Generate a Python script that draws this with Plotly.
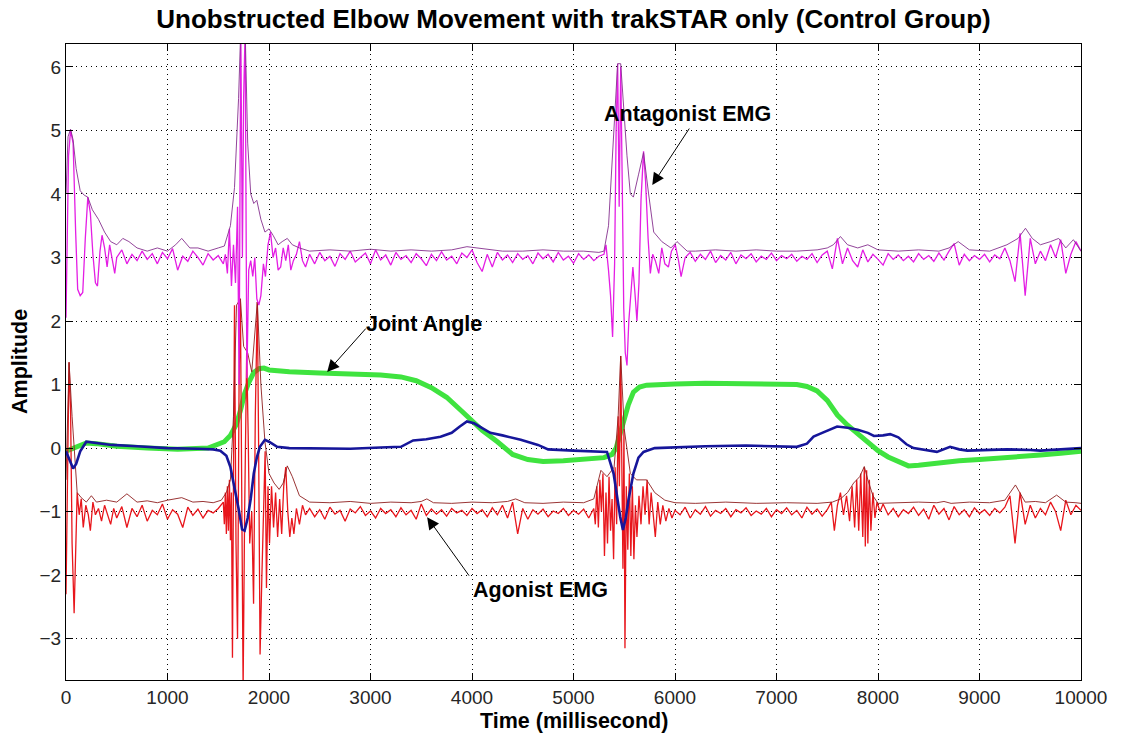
import plotly.graph_objects as go

# ---------------------------------------------------------------- data
# Time axis in milliseconds, amplitudes in normalised units.

# Joint angle (thick green trace)
angle_t = [0, 100, 200, 300, 500, 800, 1100, 1400, 1500, 1560, 1620, 1680, 1720, 1760, 1800,
           1850, 1900, 1950, 2000, 2200, 2500, 2800, 3100, 3300, 3450, 3600, 3750, 3900, 4000,
           4100, 4250, 4400, 4550, 4700, 4900, 5100, 5300, 5380, 5420, 5460, 5500, 5540, 5590,
           5650, 5720, 5800, 6000, 6300, 6700, 7000, 7200, 7300, 7400, 7500, 7600, 7700, 7800,
           7900, 8000, 8100, 8200, 8300, 8400, 8600, 8800, 9000, 9300, 9600, 9800, 10000]
angle_v = [-0.05, 0.02, 0.08, 0.07, 0.03, 0.0, -0.02, 0.0, 0.05, 0.1, 0.2, 0.38, 0.6, 0.86, 1.03,
           1.19, 1.25, 1.26, 1.23, 1.2, 1.18, 1.17, 1.15, 1.12, 1.06, 0.95, 0.8, 0.58, 0.42,
           0.28, 0.1, -0.1, -0.18, -0.21, -0.2, -0.18, -0.15, -0.1, 0.0, 0.23, 0.45, 0.68, 0.88,
           0.96, 0.99, 1.0, 1.01, 1.02, 1.01, 1.0, 1.0, 0.97, 0.9, 0.75, 0.52, 0.36, 0.22,
           0.08, -0.04, -0.14, -0.22, -0.28, -0.27, -0.23, -0.2, -0.18, -0.15, -0.11, -0.08, -0.05]

# Angular velocity (dark blue trace)
veloc_t = [0, 40, 70, 100, 140, 200, 300, 450, 700, 1000, 1300, 1450, 1520, 1580, 1620, 1660,
           1700, 1735, 1760, 1790, 1820, 1850, 1880, 1910, 1960, 2000, 2080, 2200, 2500, 2800,
           3100, 3300, 3420, 3550, 3690, 3800, 3880, 3950, 4020, 4100, 4180, 4300, 4480, 4650,
           4750, 5000, 5200, 5330, 5395, 5430, 5460, 5487, 5515, 5541, 5590, 5640, 5690, 5800,
           6050, 6300, 6700, 7000, 7200, 7300, 7365, 7450, 7597, 7700, 7800, 7900, 7960, 8050,
           8120, 8200, 8280, 8350, 8480, 8580, 8710, 8800, 8880, 9100, 9270, 9500, 9600, 9800, 10000]
veloc_v = [-0.05, -0.2, -0.32, -0.25, -0.05, 0.1, 0.08, 0.05, 0.03, 0.0, -0.01, -0.02, -0.04,
           -0.12, -0.3, -0.6, -0.95, -1.28, -1.3, -1.1, -0.8, -0.4, -0.15, 0.02, 0.13, 0.1, 0.02,
           0.0, 0.0, -0.01, 0.01, 0.02, 0.12, 0.14, 0.18, 0.24, 0.34, 0.42, 0.39, 0.32, 0.24,
           0.2, 0.13, 0.05, -0.02, -0.04, -0.05, -0.06, -0.4, -0.78, -1.08, -1.29, -1.1, -0.82,
           -0.4, -0.15, -0.06, 0.0, 0.02, 0.03, 0.04, 0.03, 0.02, 0.07, 0.18, 0.24, 0.34, 0.32,
           0.29, 0.24, 0.19, 0.2, 0.22, 0.17, 0.06, 0.0, -0.04, -0.06, 0.02, -0.02, -0.04,
           -0.03, -0.02, -0.03, -0.04, -0.02, 0.0]

# Antagonist EMG, raw (magenta)
antag_raw_t = ([0, 25, 45, 70, 95, 115, 140, 165, 190, 215, 240, 265, 290, 310, 335, 355, 380,
                405, 430, 455, 480]
               + list(range(500, 1551, 50))
               + [1570, 1590, 1610, 1630, 1650, 1670, 1690, 1705, 1722, 1738, 1750, 1765, 1782,
                  1800, 1820, 1840, 1860, 1880, 1900, 1920, 1945, 1965, 1990, 2015, 2040, 2065,
                  2090, 2115, 2140, 2165, 2190, 2215, 2240, 2270, 2300, 2330, 2360]
               + list(range(2400, 5301, 50))
               + [5320, 5345, 5365, 5385, 5405, 5420, 5435, 5450, 5465, 5480, 5495, 5510, 5527,
                  5545, 5565, 5585, 5605, 5625, 5645, 5665, 5690, 5710, 5735, 5757, 5780, 5806,
                  5840, 5870, 5900, 5935, 5965, 6003, 6035, 6060, 6100]
               + list(range(6150, 10001, 50)))
antag_raw_v = [
    2.05, 4.6, 5.0, 4.8, 3.4, 2.5, 2.4, 2.45, 3.3, 3.95, 3.7, 3.05, 2.6, 2.55, 3.1, 3.35, 3.15,
    2.85, 3.2, 3.0, 2.75,
    3.0, 3.12, 2.9, 3.05, 2.95, 3.1, 2.97, 3.06, 2.9, 3.08, 2.98, 3.14, 2.8, 3.02, 2.94, 3.1,
    3.0, 2.88, 3.06, 2.96, 3.03, 2.9,
    3.05, 2.75, 3.45, 2.55, 3.2, 2.6, 3.8, 1.0, 6.6, 3.0, 5.5, 6.6, 1.1, 2.8, 2.95, 2.7, 3.0,
    2.35, 2.25, 2.4, 2.9, 2.7, 3.2, 3.4, 3.0, 3.15, 2.8, 2.85, 3.15, 2.95, 3.2, 2.8, 2.95,
    3.05, 3.25, 2.95, 2.85,
    3.05, 2.9, 3.08, 2.95, 3.02, 2.86, 3.06, 2.97, 3.1, 2.93,
    3.0, 3.07, 2.9, 3.12, 2.96, 3.04, 2.88, 3.08, 2.97, 3.03,
    2.92, 3.06, 2.98, 2.87, 3.05, 2.95, 3.09, 2.96, 3.02, 2.9,
    3.07, 3.0, 3.12, 2.92, 2.78, 3.05, 2.85, 3.08, 2.96, 3.04,
    2.92, 3.06, 2.97, 3.03, 2.9, 3.07, 2.98, 3.05, 2.93, 3.08,
    2.96, 3.02, 2.91, 3.06, 2.97, 3.04, 2.95, 3.02, 3.05,
    3.2, 2.8, 2.4, 1.75, 2.9, 5.0, 6.05, 3.8, 6.0, 4.2, 2.2, 1.5, 1.3, 2.0, 2.5, 2.85, 2.45,
    2.0, 2.6, 3.9, 4.67, 4.2, 3.3, 2.75, 3.05, 2.95, 2.75, 3.15, 2.9, 2.85, 3.1, 3.2, 2.95,
    2.7, 3.0,
    3.08, 2.94, 3.05, 2.97, 3.1, 2.92, 3.03, 2.96, 3.08, 2.9,
    3.04, 2.98, 3.06, 2.93, 3.02, 2.97, 3.07, 2.95, 3.03, 2.98,
    3.05, 2.94, 3.02, 2.97, 3.06, 2.92, 3.04, 3.1, 2.82, 3.3,
    2.9, 3.15, 2.95, 2.85, 3.12, 2.93, 3.05, 2.97, 2.88, 3.06,
    2.97, 3.04, 2.95, 3.02, 2.93, 3.06, 2.97, 3.03, 2.94, 3.07,
    2.96, 3.1, 3.22, 2.88, 3.05, 2.95, 3.03, 2.97, 3.05, 2.93,
    3.04, 2.98, 3.15, 2.95, 2.62, 3.38, 2.4, 3.3, 2.9, 3.1,
    2.95, 3.2, 3.0, 3.28, 2.75, 3.05, 3.25, 3.1]

# Antagonist EMG, envelope (thin purple)
antag_env_t = [0, 20, 45, 70, 100, 140, 180, 215, 260, 320, 380, 440, 500, 560, 620, 700, 800,
               900, 1000, 1080, 1140, 1220, 1300, 1400, 1500, 1560, 1620, 1660, 1700, 1722, 1765,
               1790, 1820, 1850, 1880, 1920, 1960, 2000, 2040, 2090, 2130, 2180, 2230, 2300, 2400,
               2600, 2800, 3000, 3200, 3400, 3600, 3800, 3950, 4050, 4150, 4300, 4500, 4700,
               4900, 5100, 5250, 5300, 5345, 5395, 5435, 5465, 5500, 5527, 5560, 5590, 5640,
               5690, 5740, 5790, 5870, 5960, 6020, 6120, 6200, 6400, 6600, 6800, 7000, 7200,
               7400, 7500, 7560, 7630, 7700, 7800, 7900, 8000, 8200, 8400, 8600, 8700, 8790,
               8900, 9100, 9270, 9380, 9453, 9520, 9600, 9700, 9780, 9850, 9925, 10000]
antag_env_v = [4.0, 4.9, 5.02, 4.85, 4.4, 4.05, 3.98, 3.95, 3.75, 3.6, 3.4, 3.25, 3.2, 3.3, 3.25,
               3.15, 3.1, 3.15, 3.1, 3.2, 3.3, 3.15, 3.15, 3.1, 3.15, 3.18, 3.5, 4.1, 5.5, 6.6,
               6.6, 4.8, 4.0, 3.85, 3.9, 3.6, 3.4, 3.45, 3.35, 3.2, 3.25, 3.3, 3.2, 3.15, 3.1,
               3.12, 3.1, 3.13, 3.1, 3.12, 3.1, 3.12, 3.17, 3.15, 3.12, 3.1, 3.1, 3.12, 3.1, 3.1,
               3.08, 3.1, 3.5, 5.0, 6.05, 6.05, 5.2, 4.6, 4.0, 3.95, 4.3, 4.65, 4.0, 3.4, 3.25,
               3.15, 3.25, 3.1, 3.1, 3.12, 3.1, 3.12, 3.1, 3.1, 3.12, 3.15, 3.2, 3.33, 3.2, 3.15,
               3.2, 3.12, 3.1, 3.12, 3.1, 3.15, 3.25, 3.12, 3.1, 3.2, 3.3, 3.46, 3.3, 3.2, 3.25,
               3.3, 3.15, 3.28, 3.1]

# Agonist EMG, raw (red)
agon_raw_t = ([0, 15, 30, 45, 60, 80, 95, 110, 130, 150, 170, 195, 220, 240, 265, 290, 320, 350,
               380, 410, 440, 470]
              + list(range(500, 1551, 50))
              + [1560, 1570, 1580, 1590, 1600, 1610, 1620, 1630, 1640, 1660, 1675, 1690, 1705,
                 1718, 1730, 1745, 1760, 1780, 1795, 1810, 1830, 1848, 1865, 1885, 1898, 1912,
                 1930, 1948, 1962, 1975, 1990, 2005, 2025, 2045, 2065, 2085, 2105, 2125, 2145,
                 2165, 2185, 2205, 2225, 2245, 2270, 2300, 2330, 2360]
              + list(range(2400, 5201, 50))
              + [5215, 5230, 5245, 5260, 5275, 5290, 5305, 5320, 5335, 5350, 5365, 5380, 5395,
                 5410, 5425, 5440, 5452, 5465, 5477, 5487, 5497, 5507, 5520, 5535, 5550, 5565,
                 5580, 5595, 5610, 5625, 5645, 5665, 5685, 5705, 5725, 5745, 5765, 5785, 5806,
                 5830, 5855, 5880, 5910, 5940, 5970, 6000]
              + list(range(6050, 7501, 50))
              + [7540, 7570, 7600, 7630, 7660, 7690, 7720, 7745, 7770, 7790, 7810, 7830, 7850,
                 7865, 7875, 7888, 7900, 7915, 7930, 7950, 7970, 7990, 8020]
              + list(range(8050, 10001, 50)))
agon_raw_v = [
    -2.3, -0.5, 1.35, 0.6, -1.5, -2.6, -1.6, -0.7, -1.05, -0.8, -1.25, -0.9, -1.05, -1.3, -0.85,
    -1.05, -0.95, -1.15, -0.9, -1.05, -1.2, -0.95,
    -1.1, -0.92, -1.25, -0.95, -1.08, -0.9, -1.15, -0.98, -1.05, -0.88, -1.12, -0.97, -1.04,
    -1.25, -0.93, -1.06, -0.96, -1.1, -0.98, -1.02, -0.95, -0.85,
    -1.2, -0.7, -1.35, -0.6, -1.3, -0.5, -1.45, -0.7, -3.3, 2.25, -1.5, -3.0, 1.0, 2.35, -0.5,
    -3.8, -1.0, 1.5, 0.2, -1.5, -1.0, -2.45, 0.5, 2.3, 0.0, -3.25, -2.0, -0.6, -0.05, -2.2,
    -0.6, -1.5, -0.6, -1.25, -0.7, -1.4, -0.8, -1.35, -0.6, -0.3, -1.0, -1.4, -1.1, -1.35,
    -0.95, -1.2, -0.9, -1.05,
    -0.95, -1.08, -0.97, -1.12, -0.93, -1.04, -0.98, -1.15, -0.96, -1.02,
    -0.92, -1.06, -0.99, -1.1, -0.95, -1.03, -0.97, -1.08, -0.94, -1.05,
    -0.98, -1.12, -0.88, -1.06, -0.96, -1.04, -0.97, -1.07, -0.95, -1.02,
    -0.98, -1.06, -0.95, -1.03, -0.97, -1.08, -0.94, -1.05, -0.9, -1.1,
    -0.85, -1.35, -0.95, -1.12, -0.97, -1.04, -0.96, -1.08, -0.99, -1.03,
    -0.95, -1.06, -0.98, -1.04, -0.96, -1.1, -0.95,
    -1.2, -0.6, -1.25, -0.5, -1.0, -0.4, -1.7, -0.7, -1.5, -0.45, -1.3, -0.8, -1.75, -0.3,
    -1.2, 0.5, -0.6, 1.45, -0.4, -1.9, 0.3, -3.15, -0.6, -1.6, -0.4, -1.7, -0.6, -1.75, -0.9,
    -1.4, -0.75, -1.2, -0.6, -1.05, -0.5, -1.2, -0.7, -1.1, -1.4, -0.85, -1.2, -0.9, -1.15,
    -0.95, -1.1, -0.98,
    -1.05, -0.93, -1.1, -0.97, -1.04, -0.92, -1.07, -0.98, -1.03, -0.95,
    -1.08, -0.97, -1.02, -0.94, -1.06, -0.99, -1.04, -0.95, -1.08, -0.97,
    -1.03, -0.94, -1.05, -0.98, -1.1, -0.93, -1.04, -0.96, -1.07, -0.97,
    -0.85, -1.3, -0.9, -0.7, -1.05, -0.75, -1.15, -0.6, -1.25, -0.5, -1.3, -0.4, -1.4, -0.3,
    -1.55, -0.35, -1.5, -0.5, -1.3, -0.7, -1.1, -0.85, -1.0,
    -0.88, -1.05, -0.95, -1.08, -0.97, -1.03, -0.93, -1.06, -0.96, -1.12,
    -0.9, -1.04, -0.95, -1.13, -0.92, -1.05, -0.97, -1.08, -0.94, -1.03,
    -0.97, -1.06, -0.95, -1.02, -0.93, -0.75, -1.5, -0.7, -1.2, -0.9,
    -1.1, -0.95, -1.05, -0.85, -1.0, -1.3, -0.82, -1.05, -0.9, -0.98]

# Agonist EMG, envelope (thin dark red)
agon_env_t = [0, 30, 60, 90, 110, 150, 200, 250, 300, 400, 500, 600, 700, 800, 900, 1000, 1140,
              1250, 1350, 1450, 1530, 1580, 1620, 1650, 1680, 1718, 1750, 1790, 1830, 1885,
              1920, 1960, 2000, 2050, 2100, 2140, 2180, 2230, 2300, 2400, 2600, 2800, 3000,
              3200, 3400, 3500, 3555, 3620, 3800, 4000, 4200, 4350, 4430, 4520, 4700, 4900,
              5100, 5200, 5270, 5330, 5400, 5440, 5465, 5500, 5560, 5620, 5720, 5800, 5900,
              6000, 6200, 6500, 6800, 7100, 7400, 7550, 7630, 7700, 7760, 7820, 7865, 7900,
              7950, 8000, 8200, 8400, 8580, 8650, 8720, 8900, 9100, 9250, 9354, 9450, 9550,
              9650, 9760, 9850, 9950, 10000]
agon_env_v = [-0.5, 1.35, 0.5, -0.3, -0.7, -0.78, -0.85, -0.75, -0.85, -0.82, -0.85, -0.72,
              -0.85, -0.83, -0.86, -0.82, -0.78, -0.85, -0.84, -0.86, -0.82, -0.7, -0.5, 0.5,
              2.25, 2.35, 1.6, 1.5, 1.2, 2.3, 1.0, 0.1, -0.4, -0.55, -0.65, -0.55, -0.28, -0.45,
              -0.75, -0.85, -0.86, -0.84, -0.87, -0.85, -0.86, -0.84, -0.8, -0.86, -0.87, -0.85,
              -0.86, -0.84, -0.8, -0.86, -0.87, -0.85, -0.86, -0.8, -0.35, -0.45, -0.3, 0.5,
              1.45, 0.3, -0.4, -0.5, -0.5, -0.7, -0.82, -0.86, -0.87, -0.85, -0.87, -0.86,
              -0.87, -0.85, -0.8, -0.7, -0.55, -0.45, -0.29, -0.5, -0.75, -0.87, -0.86, -0.85,
              -0.86, -0.84, -0.87, -0.85, -0.86, -0.82, -0.58, -0.85, -0.84, -0.86, -0.74,
              -0.85, -0.86, -0.87]

x_ticks = list(range(0, 10001, 1000))
x_tick_labels = [str(v) for v in x_ticks]
y_ticks = [-3, -2, -1, 0, 1, 2, 3, 4, 5, 6]

for a, b in [(angle_t, angle_v), (veloc_t, veloc_v), (antag_raw_t, antag_raw_v),
             (antag_env_t, antag_env_v), (agon_raw_t, agon_raw_v), (agon_env_t, agon_env_v)]:
    assert len(a) == len(b), (len(a), len(b))

# ---------------------------------------------------------------- figure
FONT = "Liberation Sans, Arial, sans-serif"

fig = go.Figure()


def add_line(t, v, color, width):
    fig.add_trace(go.Scatter(x=t, y=v, mode="lines", showlegend=False, hoverinfo="skip",
                             line=dict(color=color, width=width)))


add_line(angle_t, angle_v, "#3fe33f", 5)
add_line(agon_raw_t, agon_raw_v, "#e8161c", 1.3)
add_line(agon_env_t, agon_env_v, "#8e1e1e", 0.9)
add_line(antag_raw_t, antag_raw_v, "#e41ee4", 1.3)
add_line(antag_env_t, antag_env_v, "#86308f", 0.9)
add_line(veloc_t, veloc_v, "#16169a", 2.6)

axis_common = dict(
    showgrid=True, gridcolor="#000000", gridwidth=1, griddash="1px,4px",
    zeroline=False, showline=True, linecolor="#000000", linewidth=1.2, mirror="ticks",
    ticks="inside", ticklen=7, tickcolor="#000000", tickwidth=1,
    tickfont=dict(family=FONT, size=19, color="#262626"),
)

fig.update_layout(
    width=1122, height=734,
    margin=dict(l=66, r=41, t=44, b=54),
    paper_bgcolor="white", plot_bgcolor="white",
    xaxis=dict(range=[0, 10000], tickvals=x_ticks, ticktext=x_tick_labels, **axis_common),
    yaxis=dict(range=[-3.65, 6.36], tickvals=y_ticks, **axis_common),
    title=dict(text="<b>Unobstructed Elbow Movement with trakSTAR only (Control Group)</b>",
               x=0.5, xref="paper", xanchor="center",
               y=1 - 19 / 734, yref="container", yanchor="middle",
               font=dict(family=FONT, size=26, color="black")),
)

label_font = dict(family=FONT, size=21.5, color="black")
axis_title_font = dict(family=FONT, size=21.5, color="black")
# axis titles
fig.add_annotation(text="<b>Time (millisecond)</b>", xref="paper", yref="paper",
                   x=0.5, y=-(721 - 680) / 636, xanchor="center", yanchor="middle",
                   showarrow=False, font=axis_title_font)
fig.add_annotation(text="<b>Amplitude</b>", xref="paper", yref="paper",
                   x=-(66 - 20) / 1015, y=0.5, xanchor="center", yanchor="middle",
                   textangle=-90, showarrow=False, font=axis_title_font)

# series labels with pointer arrows
labels = [
    ("Joint Angle", 3527, 1.95, 2573, 1.197, 40, -45),
    ("Antagonist EMG", 6128, 5.26, 5776, 4.14, 38, -58),
    ("Agonist EMG", 4670, -2.236, 3558, -1.087, 43, 60),
]
for text, tx, ty, hx, hy, ax, ay in labels:
    fig.add_annotation(text=f"<b>{text}</b>", x=tx, y=ty, xref="x", yref="y",
                       showarrow=False, font=label_font)
    fig.add_annotation(text="", x=hx, y=hy, xref="x", yref="y", ax=ax, ay=ay,
                       showarrow=True, arrowhead=2, arrowsize=2.4, arrowwidth=1,
                       arrowcolor="black")

fig.write_html("out.html")
